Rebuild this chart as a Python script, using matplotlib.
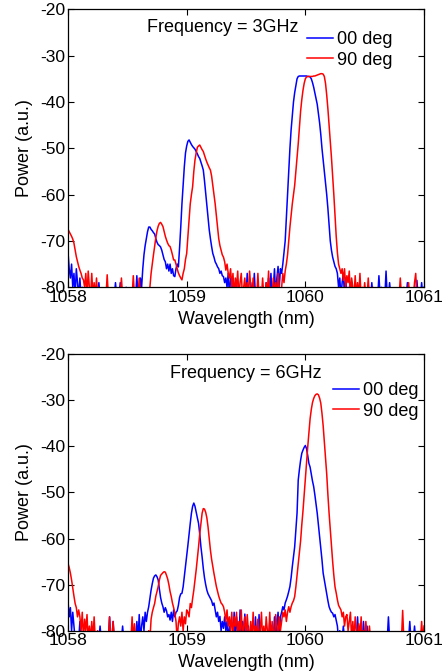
import numpy as np
import matplotlib
matplotlib.use("Agg")
import matplotlib.pyplot as plt

plt.rcParams['font.family'] = ['Liberation Sans', 'DejaVu Sans']
plt.rcParams['axes.unicode_minus'] = False

# wavelength sampling (nm), 0.01 nm steps from 1058 to 1061
wavelength = np.round(np.linspace(1058.0, 1061.0, 301), 2)

# values (a.u.), one row per 0.1 nm; -82 = below the plot floor
top_00deg = [
    -72.5, -76, -78, -75, -80, -77, -82, -76, -79, -82,        # 1058.0
    -78, -82, -80, -82, -82, -82, -82, -82, -82, -82,           # 1058.1
    -82, -82, -82, -82, -82, -82, -79, -82, -82, -82,           # 1058.2
    -82, -82, -82, -82, -82, -82, -82, -82, -82, -82,           # 1058.3
    -79, -82, -82, -82, -79, -82, -82, -82, -82, -80,           # 1058.4
    -82, -82, -82, -82, -82, -82, -82, -82, -77.5, -82,         # 1058.5
    -82, -78, -80, -76, -73, -71, -69.5, -68, -67, -67,         # 1058.6
    -67.5, -67.8, -68.2, -68.5, -69.5, -70.3, -70.8, -71, -71.3, -72,   # 1058.7
    -73, -74, -74.5, -76, -75, -76.5, -75, -77, -76, -77.5,     # 1058.8
    -77.7, -76, -75, -75.6, -71.5, -67, -62, -58, -54, -51,     # 1058.9
    -49.5, -48.5, -48.2, -48.7, -49.2, -49.6, -49.9, -50.2, -50.7, -51.2,   # 1059.0
    -51.8, -52.2, -53, -53.8, -54.7, -57, -59.7, -62.5, -65.2, -67.6,       # 1059.1
    -69.5, -71.2, -72.7, -73.5, -74.5, -75, -75.6, -76, -77, -76.5,         # 1059.2
    -77.5, -77.7, -79, -78, -80, -77, -82, -78, -79, -82,       # 1059.3
    -80, -82, -79, -82, -82, -82, -80, -82, -82, -82,           # 1059.4
    -82, -77, -82, -82, -79, -82, -82, -77, -82, -82,           # 1059.5
    -82, -82, -80, -82, -82, -82, -82, -79, -82, -78,           # 1059.6
    -82, -77, -82, -80, -76, -82, -78, -75.5, -80, -76,         # 1059.7
    -77, -75, -72.5, -70, -65, -60, -55, -50, -46, -43,         # 1059.8
    -40, -38, -36.5, -35, -34.5, -34.4, -34.4, -34.4, -34.4, -34.4,         # 1059.9
    -34.4, -34.4, -34.5, -34.5, -34.6, -35, -35.8, -36.8, -38, -39.2,       # 1060.0
    -40.5, -42.5, -44.5, -47, -50, -52.5, -55, -57.5, -60, -63, # 1060.1
    -66.5, -70, -72, -73.5, -74.5, -75.5, -76, -77, -80, -78,   # 1060.2
    -82, -79, -77, -82, -78, -82, -80, -82, -79, -82,           # 1060.3
    -82, -82, -79, -82, -82, -80, -82, -82, -82, -82,           # 1060.4
    -80, -82, -82, -82, -82, -82, -79, -82, -82, -82,           # 1060.5
    -82, -82, -77.5, -82, -80, -82, -82, -82, -76.5, -82,       # 1060.6
    -82, -79, -82, -82, -82, -82, -82, -82, -82, -82,           # 1060.7
    -82, -82, -82, -82, -82, -82, -79, -82, -82, -82,           # 1060.8
    -82, -82, -82, -82, -78.5, -82, -82, -82, -79, -82,         # 1060.9
    -80,
]

top_90deg = [
    -67.5, -68, -68.5, -69, -69.6, -70.5, -72, -73.4, -74.5, -75.5,        # 1058.0
    -76.3, -77, -78, -78.4, -80, -77, -82, -76.5, -80, -82,     # 1058.1
    -77, -82, -79, -82, -78, -82, -80, -82, -82, -82,           # 1058.2
    -82, -82, -82, -77.3, -82, -82, -82, -82, -82, -82,         # 1058.3
    -82, -82, -82, -82, -82, -78, -82, -82, -82, -82,           # 1058.4
    -82, -82, -82, -82, -82, -77.5, -82, -82, -82, -82,         # 1058.5
    -78, -82, -82, -82, -82, -82, -82, -82, -82, -80,           # 1058.6
    -77, -75, -73, -71.2, -69.3, -67.8, -66.8, -66.2, -66, -66.4,           # 1058.7
    -66.9, -68, -69, -69.8, -70.5, -71, -71.2, -72, -73, -74.1, # 1058.8
    -74.1, -75, -76, -76.9, -77.5, -78, -78.4, -77, -76, -74,   # 1058.9
    -72.7, -69, -65.5, -62, -60, -58.3, -55, -52.5, -51, -49.8, # 1059.0
    -49.5, -49.3, -49.8, -50.3, -50.7, -51.5, -52.3, -53, -53.6, -54.2,     # 1059.1
    -54.7, -56, -58, -60, -62, -64.5, -67, -69.5, -71, -72,     # 1059.2
    -73, -73.5, -74.5, -76.3, -75, -77, -78, -76, -80, -77,     # 1059.3
    -82, -78, -80, -76.5, -82, -79, -77, -82, -80, -78,         # 1059.4
    -82, -79, -82, -76.5, -80, -82, -78, -82, -80, -82,         # 1059.5
    -77, -82, -80, -82, -78, -82, -82, -79, -82, -76.5,         # 1059.6
    -82, -80, -82, -78, -82, -79, -82, -77, -80, -82,           # 1059.7
    -80, -77, -79, -76.5, -75, -73, -70, -67, -64.5, -62,       # 1059.8
    -60, -58, -55, -52, -49, -45.5, -42, -39.5, -37.5, -36,     # 1059.9
    -35, -34.6, -34.5, -34.5, -34.5, -34.5, -34.5, -34.4, -34.4, -34.3,     # 1060.0
    -34.2, -34.1, -34, -33.9, -33.9, -34, -34.5, -36, -38.5, -41.5,         # 1060.1
    -45, -48.5, -52, -56, -60, -64.5, -69, -72.5, -75, -76,     # 1060.2
    -77, -76, -78.5, -76, -80, -77.5, -79, -76.5, -82, -78,     # 1060.3
    -80, -82, -77.5, -82, -79, -82, -77, -82, -80, -82,         # 1060.4
    -79, -82, -82, -78, -82, -82, -82, -80, -82, -82,           # 1060.5
    -82, -82, -82, -82, -82, -82, -82, -82, -82, -82,           # 1060.6
    -82, -82, -82, -82, -82, -82, -82, -82, -82, -82,           # 1060.7
    -78, -82, -82, -80, -82, -82, -82, -79, -82, -82,           # 1060.8
    -82, -82, -79, -77, -82, -82, -82, -82, -82, -82,           # 1060.9
    -82,
]

bot_00deg = [
    -73.7, -77, -75, -80, -76, -79, -82, -82, -82, -82,         # 1058.0
    -78, -82, -82, -82, -82, -82, -82, -82, -82, -82,           # 1058.1
    -82, -82, -82, -82, -82, -82, -82, -79, -82, -82,           # 1058.2
    -82, -82, -82, -82, -82, -77, -82, -82, -78, -82,           # 1058.3
    -82, -82, -82, -82, -82, -82, -79, -82, -82, -82,           # 1058.4
    -82, -82, -82, -82, -82, -82, -82, -82, -78, -82,           # 1058.5
    -76.5, -82, -79, -77, -80, -76, -78, -76, -74.8, -73,       # 1058.6
    -71.2, -69.8, -68.6, -68.1, -67.9, -68.3, -69, -71, -72.8, -74,         # 1058.7
    -74.8, -76, -75, -75.7, -77, -76.5, -77.7, -76, -78, -75.5, # 1058.8
    -77, -76, -75.7, -74.5, -72.8, -72, -71.9, -70.5, -68.3, -66,           # 1058.9
    -63.9, -61.5, -59, -56.7, -54.5, -53, -52.3, -53, -54.3, -55.5,         # 1059.0
    -56.7, -59, -61.8, -64, -66.5, -68.5, -70, -71.2, -72, -72.5,           # 1059.1
    -73, -73.5, -74.5, -74, -75.5, -77, -76, -78, -76.9, -80,   # 1059.2
    -78, -79.5, -77, -80, -78, -82, -79, -82, -82, -82,         # 1059.3
    -76, -82, -77, -80, -82, -75.5, -82, -78, -82, -76.4,       # 1059.4
    -82, -82, -79, -82, -82, -82, -82, -82, -77, -82,           # 1059.5
    -82, -76.5, -82, -82, -82, -82, -82, -82, -82, -82,         # 1059.6
    -78, -82, -80, -82, -77, -82, -79, -76, -82, -77,           # 1059.7
    -76, -74.8, -75.5, -74, -73.3, -72.5, -71.5, -70.4, -68.5, -66.1,       # 1059.8
    -64, -61.8, -58, -54.5, -47.3, -45, -43, -41.5, -40.8, -40.2,           # 1059.9
    -39.8, -40.5, -42, -43.7, -44.5, -46, -47.5, -48.7, -50.5, -52.5,       # 1060.0
    -54.5, -57, -59.6, -62, -64.6, -67.5, -69, -70.4, -72, -73.5,           # 1060.1
    -74.8, -75.5, -76, -76.2, -77, -76.5, -77.7, -79, -82, -80, # 1060.2
    -82, -82, -79, -82, -82, -82, -82, -82, -82, -82,           # 1060.3
    -82, -82, -82, -82, -77, -82, -79, -82, -82, -78,           # 1060.4
    -82, -82, -79, -82, -82, -82, -82, -82, -82, -82,           # 1060.5
    -82, -82, -82, -82, -82, -82, -82, -82, -82, -82,           # 1060.6
    -77, -82, -82, -82, -82, -82, -82, -82, -82, -82,           # 1060.7
    -82, -82, -82, -82, -82, -82, -82, -82, -78, -82,           # 1060.8
    -82, -82, -79, -82, -82, -82, -82, -82, -82, -82,           # 1060.9
    -82,
]

bot_90deg = [
    -65.4, -66.3, -67.5, -69, -70.8, -72.5, -74.1, -75, -77, -75.5,         # 1058.0
    -77, -80, -76, -82, -77.5, -80, -76.5, -82, -79, -82,       # 1058.1
    -78, -82, -77, -82, -82, -80, -82, -82, -82, -82,           # 1058.2
    -82, -82, -82, -82, -82, -77, -82, -82, -78, -82,           # 1058.3
    -82, -82, -82, -82, -82, -82, -82, -82, -82, -82,           # 1058.4
    -82, -82, -82, -82, -77, -82, -78.5, -82, -82, -82,         # 1058.5
    -82, -82, -82, -82, -82, -82, -82, -82, -80, -82,           # 1058.6
    -77.5, -76, -75, -74.1, -72.5, -71.5, -70.4, -69, -68, -67.7,           # 1058.7
    -67.4, -67.2, -67.3, -68, -68.8, -70, -71.5, -72.6, -74, -75,           # 1058.8
    -76.2, -78, -82, -78.4, -77, -79, -76, -80, -77, -78.5,     # 1058.9
    -75.5, -76, -77, -74.1, -75, -73, -71.2, -69, -66.8, -64.3, # 1059.0
    -61.8, -59, -56.7, -54.5, -53.5, -53.6, -54.3, -55.5, -57.5, -60,       # 1059.1
    -62.5, -64.5, -66.1, -67.6, -69, -70.4, -71.5, -72.5, -73.3, -74,       # 1059.2
    -74.3, -74.8, -76, -78, -75.5, -79, -77, -80, -76, -82,     # 1059.3
    -77, -79, -76, -82, -78, -80, -75.5, -82, -79, -77,         # 1059.4
    -82, -76.5, -80, -82, -78, -82, -76, -81, -79, -82,         # 1059.5
    -77.5, -82, -80, -76, -82, -79, -82, -77, -80, -82,         # 1059.6
    -76, -82, -78, -80, -82, -76.5, -79, -82, -77, -80,         # 1059.7
    -78, -76, -77, -75.5, -78, -76, -74.8, -76, -74.8, -74,     # 1059.8
    -73.5, -72.6, -70.5, -68, -65.5, -63, -60.5, -57, -54, -50.5,           # 1059.9
    -47.3, -43.5, -40.1, -37, -34, -32, -30.5, -29.6, -29, -28.7,           # 1060.0
    -28.6, -28.8, -29.5, -30.6, -32.8, -35.5, -39, -42.5, -46, -50.5,       # 1060.1
    -54.5, -58, -61.8, -65, -68, -70.5, -71.8, -73.3, -74.5, -75,           # 1060.2
    -75.5, -77, -76, -79, -77, -76.5, -80, -78, -76, -82,       # 1060.3
    -78, -82, -77, -80, -82, -78.5, -82, -77, -82, -80,         # 1060.4
    -82, -78, -82, -82, -79, -82, -82, -82, -82, -82,           # 1060.5
    -82, -82, -82, -82, -82, -82, -82, -82, -82, -82,           # 1060.6
    -82, -82, -82, -82, -82, -82, -82, -82, -82, -82,           # 1060.7
    -82, -82, -75.6, -82, -82, -82, -82, -82, -82, -82,         # 1060.8
    -82, -82, -82, -82, -82, -82, -82, -82, -78, -82,           # 1060.9
    -79,
]

panels = [
    ("Frequency = 3GHz", top_00deg, top_90deg),
    ("Frequency = 6GHz", bot_00deg, bot_90deg),
]
labels = ["00 deg", "90 deg"]
x_ticks = [1058, 1059, 1060, 1061]
y_ticks = [-80, -70, -60, -50, -40, -30, -20]

fig = plt.figure(figsize=(4.44, 6.72), dpi=100)
ax_rects = [[0.1532, 0.5725, 0.8018, 0.4137],
            [0.1532, 0.0615, 0.8018, 0.4113]]
title_pos = [(0.435, 0.935), (0.499, 0.929)]
legend_pos = [(0.672, 0.922), (0.745, 0.90)]

for rect, (title, p00, p90), tpos, lpos in zip(ax_rects, panels, title_pos, legend_pos):
    ax = fig.add_axes(rect)
    ax.plot(wavelength, p00, color="#0000ff", linewidth=1.1, label=labels[0])
    ax.plot(wavelength, p90, color="#ff0000", linewidth=1.1, label=labels[1])

    ax.set_xlim(1058, 1061)
    ax.set_ylim(-80, -20)
    ax.set_xticks(x_ticks)
    ax.set_yticks(y_ticks)
    ax.tick_params(direction="in", top=True, right=True, length=4,
                   width=0.8, labelsize=12.6, pad=2)
    for s in ax.spines.values():
        s.set_linewidth(0.9)

    ax.set_xlabel("Wavelength (nm)", fontsize=13, labelpad=4)
    ax.set_ylabel("Power (a.u.)", fontsize=13, labelpad=5)

    ax.text(tpos[0], tpos[1], title, transform=ax.transAxes,
            ha="center", va="center", fontsize=13)
    ax.legend(loc="upper left", bbox_to_anchor=lpos, frameon=False,
              fontsize=13, handlelength=1.45, handletextpad=0.2,
              labelspacing=0.2, borderpad=0, borderaxespad=0)

fig.savefig("out.png", dpi=100)
